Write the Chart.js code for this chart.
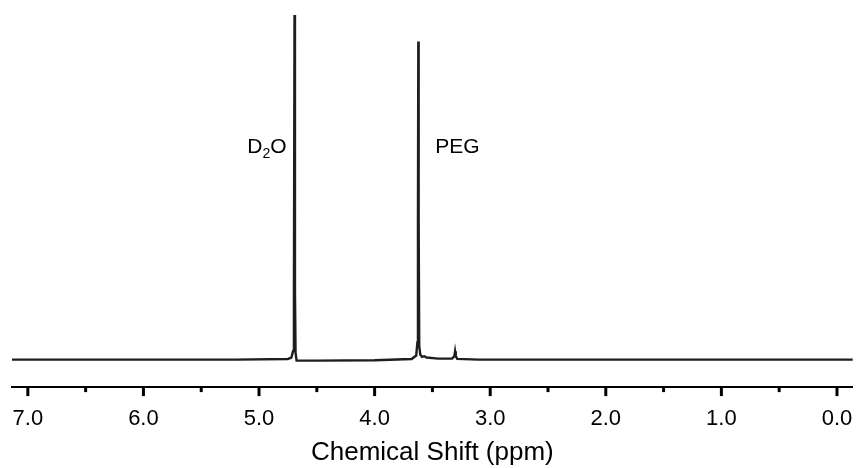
<!DOCTYPE html>
<html>
<head>
<meta charset="utf-8">
<script src="https://cdn.jsdelivr.net/npm/chart.js@4.4.1/dist/chart.umd.min.js"></script>
<style>
  html, body { margin: 0; padding: 0; background: #fff; }
  #wrap { width: 857px; height: 468px; }
</style>
</head>
<body>
<div id="wrap"><canvas id="nmr"></canvas></div>
<script>
/* ── DATA ─────────────────────────────────────────────────── */
// chemical shift (ppm) and relative intensity
const shiftPpm = [
  7.137, 6.0, 5.2, 4.75, 4.72, 4.705, 4.698, 4.693, 4.689, 4.684, 4.675,
  4.5, 4.0, 3.68, 3.64, 3.630, 3.625, 3.622, 3.619, 3.614, 3.605, 3.59,
  3.57, 3.55, 3.45, 3.33, 3.31, 3.304, 3.298, 3.285, 3.1, 2.0, 1.0, -0.136
];
const intensity = [
  0, 0, 0, 0.2, 0.6, 2.5, 20, 100, 20, 2, -0.3,
  -0.3, -0.2, 0.2, 1.2, 5, 40, 92.3, 40, 4, 1.5, 0.8,
  1.0, 0.6, 0.3, 0.3, 1, 2.4, 1, 0.2, 0, 0, 0, 0
];

const majorTicks = [7, 6, 5, 4, 3, 2, 1, 0];
const minorTicks = [6.5, 5.5, 4.5, 3.5, 2.5, 1.5, 0.5];

const peakLabels = [
  { text: 'D', sub: '2', tail: 'O', ppm: 4.761, y: 60, align: 'right' },
  { text: 'PEG', sub: '', tail: '', ppm: 3.476, y: 60, align: 'left' },
];

const FONT = "'Liberation Sans', Arial, sans-serif";

/* ── TICK MARKS + PEAK LABELS ─────────────────────────────── */
const decorations = {
  id: 'decorations',
  afterDraw(chart) {
    const { ctx, scales: { x, y }, chartArea } = chart;
    ctx.save();

    // major and minor ticks below the axis line
    ctx.strokeStyle = '#000';
    ctx.lineWidth = 3;
    const mark = (v, len) => {
      const px = x.getPixelForValue(v);
      ctx.beginPath();
      ctx.moveTo(px, chartArea.bottom);
      ctx.lineTo(px, chartArea.bottom + len);
      ctx.stroke();
    };
    majorTicks.forEach(v => mark(v, 9));
    minorTicks.forEach(v => mark(v, 5));

    // peak labels, D2O with subscript
    ctx.fillStyle = '#000';
    ctx.textBaseline = 'alphabetic';
    peakLabels.forEach(l => {
      const big = '21px ' + FONT, small = '14px ' + FONT;
      ctx.font = big;
      const w1 = ctx.measureText(l.text).width;
      const w3 = ctx.measureText(l.tail).width;
      ctx.font = small;
      const w2 = ctx.measureText(l.sub).width;
      const total = w1 + w2 + w3;
      let px = x.getPixelForValue(l.ppm);
      if (l.align === 'right') px -= total;
      const py = y.getPixelForValue(l.y);
      ctx.textAlign = 'left';
      ctx.font = big;
      ctx.fillText(l.text, px, py);
      ctx.font = small;
      ctx.fillText(l.sub, px + w1, py + 5);
      ctx.font = big;
      ctx.fillText(l.tail, px + w1 + w2, py);
    });
    ctx.restore();
  }
};

/* ── SPECTRUM ─────────────────────────────────────────────── */
new Chart(document.getElementById('nmr'), {
  type: 'line',
  data: {
    datasets: [{
      data        : shiftPpm.map((p, i) => ({ x: p, y: intensity[i] })),
      borderColor : '#1e1e1e',
      borderWidth : 2.4,
      pointRadius : 0,
      tension     : 0,
      fill        : false,
      clip        : false,
    }]
  },
  options: {
    responsive         : true,
    maintainAspectRatio: false,
    animation          : false,
    layout: { padding: { left: 12, right: 4.3, top: 15, bottom: 0 } },
    scales: {
      x: {
        type   : 'linear',
        reverse: true,
        min    : -0.136,
        max    : 7.137,
        afterBuildTicks: s => { s.ticks = majorTicks.map(v => ({ value: v })); },
        grid   : {
          drawOnChartArea: false,
          drawTicks      : true,
          tickLength     : 18.3,
          tickColor      : 'transparent',
        },
        border : { display: true, color: '#000', width: 2 },
        ticks  : {
          color   : '#000',
          padding : 0,
          maxRotation: 0,
          autoSkip: false,
          font    : { family: FONT, size: 22 },
          callback: v => Number(v).toFixed(1),
        },
        title  : {
          display: true,
          text   : 'Chemical Shift (ppm)',
          color  : '#000',
          padding: { top: 5, bottom: 0 },
          font   : { family: FONT, size: 26 },
        },
      },
      y: {
        display: false,
        min    : -7.97,
        max    : 100,
      }
    },
    plugins: {
      legend : { display: false },
      tooltip: { enabled: false },
    }
  },
  plugins: [decorations]
});
</script>
</body>
</html>
